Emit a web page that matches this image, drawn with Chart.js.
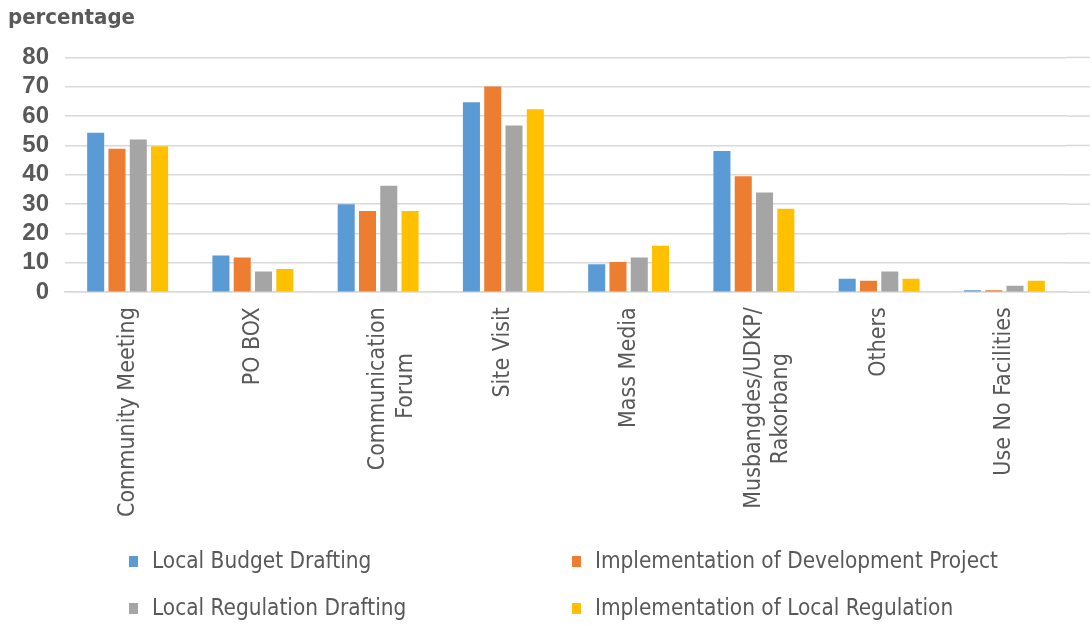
<!DOCTYPE html>
<html>
<head>
<meta charset="utf-8">
<script src="https://cdn.jsdelivr.net/npm/chart.js@4"></script>
<style>
  body { margin: 0; background: #fff; }
  #wrap { position: relative; width: 1092px; height: 626px; }
  #legend { position: absolute; left: 0; top: 0; width: 1092px; height: 626px; pointer-events: none;
            font-family: 'DejaVu Sans Condensed', sans-serif; font-size: 22.4px; color: #595959; }
  .item { position: absolute; white-space: nowrap; line-height: 26px; }
  .box { display: inline-block; width: 9px; height: 11px; margin-right: 14px; vertical-align: 1px; }
</style>
</head>
<body>
<div id="wrap">
  <canvas id="canvas" width="1092" height="626"></canvas>
  <div id="legend"></div>
</div>
<script>
// data
var categories = [
  'Community Meeting', 'PO BOX', ['Communication', 'Forum'], 'Site Visit',
  'Mass Media', ['Musbangdes/UDKP/', 'Rakorbang'], 'Others', 'Use No Facilities'
];
var seriesNames = [
  'Local Budget Drafting', 'Implementation of Development Project',
  'Local Regulation Drafting', 'Implementation of Local Regulation'
];
var localBudget = [54.3, 12.5, 30.0, 64.7, 9.5, 48.1, 4.6, 0.7];
var devProject = [48.9, 11.8, 27.7, 70.1, 10.3, 39.5, 3.9, 0.7];
var localRegDraft = [52.0, 7.1, 36.3, 56.8, 11.8, 34.0, 7.1, 2.2];
var localRegImpl = [49.7, 7.9, 27.7, 62.3, 15.8, 28.4, 4.6, 3.9];
var yTicks = [0, 10, 20, 30, 40, 50, 60, 70, 80];

var colours = ['#5B9BD5', '#ED7D31', '#A5A5A5', '#FFC000'];
var allSeries = [localBudget, devProject, localRegDraft, localRegImpl];
var labelFamily = '"DejaVu Sans Condensed", sans-serif';
var labelSize = 23;
var gridColour = '#d9d9d9';

// pad the shorter line of a two-line label so the lines look centred once rotated
var measureCtx = document.createElement('canvas').getContext('2d');
measureCtx.font = labelSize + 'px ' + labelFamily;
function centreLines(lbl) {
  if (!Array.isArray(lbl)) return lbl;
  var widths = lbl.map(function (s) { return measureCtx.measureText(s).width; });
  var maxW = Math.max.apply(null, widths);
  var sp = measureCtx.measureText(' ').width;
  return lbl.map(function (s, i) {
    var n = Math.round((maxW - widths[i]) / 2 / sp);
    return s + ' '.repeat(n);
  });
}

// the gridlines in the original run on past the last group to the edge
var gridRunOn = {
  id: 'gridRunOn',
  beforeDatasetsDraw: function (chart) {
    var y = chart.scales.y, c = chart.ctx;
    c.save();
    c.strokeStyle = gridColour;
    c.lineWidth = 1.5;
    yTicks.forEach(function (v) {
      var py = y.getPixelForValue(v);
      c.beginPath();
      c.moveTo(chart.chartArea.right, py);
      c.lineTo(chart.width - 2, py);
      c.stroke();
    });
    c.restore();
  }
};

var datasets = [];
for (var i = 0; i < allSeries.length; i++) {
  datasets.push({
    label: seriesNames[i],
    data: allSeries[i],
    backgroundColor: colours[i],
    borderWidth: 0,
    barPercentage: 0.8,
    categoryPercentage: 0.68
  });
}

var ctx = document.getElementById('canvas').getContext('2d');
window.myBars = new Chart(ctx, {
  type: 'bar',
  data: { labels: categories.map(centreLines), datasets: datasets },
  plugins: [gridRunOn],
  options: {
    responsive: false,
    animation: false,
    layout: { padding: { left: 8, right: 25, top: 5, bottom: 94 } },
    plugins: {
      legend: { display: false },
      tooltip: { enabled: false },
      title: {
        display: true, text: 'percentage', align: 'start', color: '#595959',
        font: { family: labelFamily, size: 22, weight: 'bold' },
        padding: { top: 0, bottom: 26 }
      }
    },
    scales: {
      x: {
        grid: { display: false, drawTicks: false },
        border: { color: gridColour, width: 1.5 },
        ticks: {
          color: '#595959', maxRotation: 90, minRotation: 90, padding: 15,
          font: { family: labelFamily, size: labelSize }
        }
      },
      y: {
        min: 0, max: 80,
        afterFit: function (scale) { scale.width = 57; },
        afterBuildTicks: function (scale) { scale.ticks = yTicks.map(function (v) { return { value: v }; }); },
        grid: { color: gridColour, lineWidth: 1.5, drawTicks: false },
        border: { display: false },
        ticks: {
          color: '#595959', padding: 16, autoSkip: false,
          font: { family: '"Liberation Sans", sans-serif', size: 24, weight: 'bold' }
        }
      }
    }
  }
});

// two-column legend below the chart
var legend = document.getElementById('legend');
var spots = [[129, 547], [572, 547], [129, 594], [572, 594]];
seriesNames.forEach(function (name, k) {
  var div = document.createElement('div');
  div.className = 'item';
  div.style.left = spots[k][0] + 'px';
  div.style.top = spots[k][1] + 'px';
  div.innerHTML = '<span class="box" style="background:' + colours[k] + '"></span>' + name;
  legend.appendChild(div);
});
</script>
</body>
</html>
